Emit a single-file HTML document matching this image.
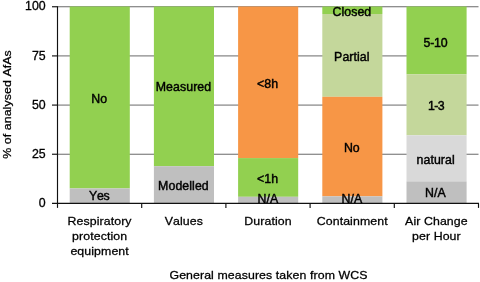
<!DOCTYPE html>
<html lang="en"><head><meta charset="utf-8"><title>General measures taken from WCS</title>
<style>
html,body{margin:0;padding:0;background:#fff;}
body{width:480px;height:282px;overflow:hidden;}
svg{display:block;}
text{font-family:"Liberation Sans",Arial,Helvetica,sans-serif;font-size:11.8px;fill:#000;stroke:#000;stroke-width:0.27px;font-kerning:none;letter-spacing:0.085px;}
text.t{font-size:11.9px;stroke-width:0.3px;}
text.b{font-size:12.0px;stroke-width:0.42px;}
</style></head><body>
<svg width="480" height="282" viewBox="0 0 480 282">
<rect width="480" height="282" fill="#fff"/>
<line x1="57.5" x2="478.5" y1="154.24" y2="154.24" stroke="#696969" stroke-width="1"/>
<line x1="57.5" x2="478.5" y1="105.08" y2="105.08" stroke="#696969" stroke-width="1"/>
<line x1="57.5" x2="478.5" y1="55.91" y2="55.91" stroke="#696969" stroke-width="1"/>
<line x1="57.5" x2="478.5" y1="6.75" y2="6.75" stroke="#696969" stroke-width="1"/>
<rect x="69.70" y="6.5" width="60.10" height="181.90" fill="#92D050"/>
<rect x="69.70" y="188.4" width="60.10" height="15.00" fill="#BFBFBF"/>
<rect x="153.90" y="6.5" width="60.10" height="159.70" fill="#92D050"/>
<rect x="153.90" y="166.2" width="60.10" height="37.20" fill="#BFBFBF"/>
<rect x="238.10" y="6.5" width="60.10" height="151.60" fill="#F79646"/>
<rect x="238.10" y="158.1" width="60.10" height="38.70" fill="#92D050"/>
<rect x="238.10" y="196.8" width="60.10" height="6.60" fill="#BFBFBF"/>
<rect x="322.30" y="6.5" width="60.10" height="7.50" fill="#92D050"/>
<rect x="322.30" y="14.0" width="60.10" height="82.80" fill="#C4D79B"/>
<rect x="322.30" y="96.8" width="60.10" height="99.50" fill="#F79646"/>
<rect x="322.30" y="196.3" width="60.10" height="7.10" fill="#BFBFBF"/>
<rect x="406.50" y="6.5" width="60.10" height="67.70" fill="#92D050"/>
<rect x="406.50" y="74.2" width="60.10" height="61.10" fill="#C4D79B"/>
<rect x="406.50" y="135.3" width="60.10" height="46.10" fill="#D9D9D9"/>
<rect x="406.50" y="181.4" width="60.10" height="22.00" fill="#BFBFBF"/>
<line x1="57.5" x2="57.5" y1="6.25" y2="207.9" stroke="#111" stroke-width="1.15"/>
<line x1="52.0" x2="479.0" y1="203.4" y2="203.4" stroke="#111" stroke-width="1.15"/>
<line x1="52.0" x2="57.5" y1="154.24" y2="154.24" stroke="#111" stroke-width="1.15"/>
<line x1="52.0" x2="57.5" y1="105.08" y2="105.08" stroke="#111" stroke-width="1.15"/>
<line x1="52.0" x2="57.5" y1="55.91" y2="55.91" stroke="#111" stroke-width="1.15"/>
<line x1="52.0" x2="57.5" y1="6.75" y2="6.75" stroke="#111" stroke-width="1.15"/>
<line x1="141.70" x2="141.70" y1="203.4" y2="207.9" stroke="#111" stroke-width="1.15"/>
<line x1="225.90" x2="225.90" y1="203.4" y2="207.9" stroke="#111" stroke-width="1.15"/>
<line x1="310.10" x2="310.10" y1="203.4" y2="207.9" stroke="#111" stroke-width="1.15"/>
<line x1="394.30" x2="394.30" y1="203.4" y2="207.9" stroke="#111" stroke-width="1.15"/>
<line x1="478.50" x2="478.50" y1="203.4" y2="207.9" stroke="#111" stroke-width="1.15"/>
<text transform="translate(45.80 207.05) scale(1.0378 1)" text-anchor="end" class="t">0</text>
<text transform="translate(45.80 157.89) scale(1.0378 1)" text-anchor="end" class="t">25</text>
<text transform="translate(45.80 108.73) scale(1.0378 1)" text-anchor="end" class="t">50</text>
<text transform="translate(45.80 59.56) scale(1.0378 1)" text-anchor="end" class="t">75</text>
<text transform="translate(45.80 10.40) scale(1.0378 1)" text-anchor="end" class="t">100</text>
<text transform="translate(11.20 104.50) rotate(-90) scale(1.0466 1)" text-anchor="middle">% of analysed AfAs</text>
<text transform="translate(99.25 103.00) scale(1.0292 1)" text-anchor="middle" class="b">No</text>
<text transform="translate(99.25 200.30) scale(1.0292 1)" text-anchor="middle" class="b" style="letter-spacing:-0.2px">Yes</text>
<text transform="translate(183.45 91.20) scale(1.0292 1)" text-anchor="middle" class="b">Measured</text>
<text transform="translate(183.45 190.00) scale(1.0292 1)" text-anchor="middle" class="b">Modelled</text>
<text transform="translate(267.65 88.30) scale(1.0292 1)" text-anchor="middle" class="b">&lt;8h</text>
<text transform="translate(267.65 182.50) scale(1.0292 1)" text-anchor="middle" class="b">&lt;1h</text>
<text transform="translate(267.95 202.70) scale(1.0292 1)" text-anchor="middle" class="b">N/A</text>
<text transform="translate(351.85 15.60) scale(1.0292 1)" text-anchor="middle" class="b">Closed</text>
<text transform="translate(351.85 61.20) scale(1.0292 1)" text-anchor="middle" class="b">Partial</text>
<text transform="translate(351.85 151.90) scale(1.0292 1)" text-anchor="middle" class="b">No</text>
<text transform="translate(351.95 202.70) scale(1.0292 1)" text-anchor="middle" class="b">N/A</text>
<text transform="translate(435.45 46.60) scale(1.0292 1)" text-anchor="middle" class="b" style="letter-spacing:-0.2px">5-10</text>
<text transform="translate(435.95 110.20) scale(1.0292 1)" text-anchor="middle" class="b" style="letter-spacing:-0.65px">1-3</text>
<text transform="translate(435.65 163.75) scale(1.0292 1)" text-anchor="middle" class="b">natural</text>
<text transform="translate(435.45 197.00) scale(1.0292 1)" text-anchor="middle" class="b">N/A</text>
<text transform="translate(99.60 224.70) scale(1.0466 1)" text-anchor="middle">Respiratory</text>
<text transform="translate(99.60 239.70) scale(1.0466 1)" text-anchor="middle">protection</text>
<text transform="translate(99.60 254.70) scale(1.0466 1)" text-anchor="middle">equipment</text>
<text transform="translate(183.80 224.70) scale(1.0466 1)" text-anchor="middle">Values</text>
<text transform="translate(268.00 224.70) scale(1.0466 1)" text-anchor="middle">Duration</text>
<text transform="translate(352.20 224.70) scale(1.0466 1)" text-anchor="middle">Containment</text>
<text transform="translate(436.40 224.70) scale(1.0466 1)" text-anchor="middle">Air Change</text>
<text transform="translate(436.40 239.70) scale(1.0466 1)" text-anchor="middle">per Hour</text>
<text transform="translate(268.50 278.90) scale(1.0466 1)" text-anchor="middle">General measures taken from WCS</text>
</svg>
</body></html>
